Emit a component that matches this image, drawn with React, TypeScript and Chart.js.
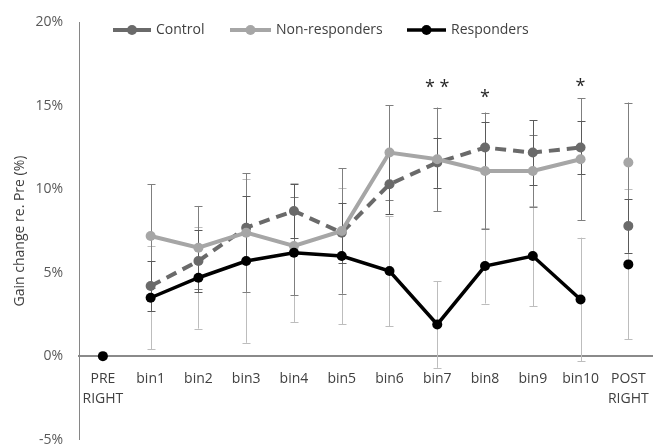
import React, { useEffect, useRef } from 'react';
import { Chart, registerables } from 'chart.js';

Chart.register(...registerables);

const categories: (string | string[])[] = [
  ['PRE', 'RIGHT'], 'bin1', 'bin2', 'bin3', 'bin4', 'bin5', 'bin6', 'bin7', 'bin8', 'bin9', 'bin10', ['POST', 'RIGHT'],
];

const controlValues = [null, 4.2, 5.7, 7.7, 8.7, 7.4, 10.3, 11.6, 12.5, 12.2, 12.5, 7.8];
const controlErrors = [null, 1.5, 1.85, 1.9, 1.6, 1.8, 1.8, 1.5, 1.55, 1.95, 1.6, 1.6];

const nonResponderValues = [null, 7.2, 6.5, 7.4, 6.6, 7.5, 12.2, 11.8, 11.1, 11.1, 11.8, 11.6];
const nonResponderErrors = [null, 3.1, 2.5, 3.55, 2.95, 3.75, 2.85, 3.1, 3.5, 2.15, 3.65, 3.6];

const responderValues = [0, 3.5, 4.7, 5.7, 6.2, 6.0, 5.1, 1.9, 5.4, 6.0, 3.4, 5.5];
const responderErrors = [null, 3.1, 3.05, 4.9, 4.15, 4.1, 3.3, 2.6, 2.25, 3.0, 3.7, 4.5];

const significanceLabels = ['', '', '', '', '', '', '', '* *', '*', '', '*', ''];
const significanceValues = [null, null, null, null, null, null, null, 16.1, 15.5, null, 16.2, null];

const yTicks = [-5, 0, 5, 10, 15, 20];

const FONT = "'Open Sans', sans-serif";

const CONTROL_COLOR = '#6a6a6a';
const NONRESP_COLOR = '#a6a6a6';
const RESP_COLOR = '#000000';

const lastIndex = categories.length - 1;
const isDetached = (ctx: any) => ctx.p0DataIndex === 0 || ctx.p1DataIndex === lastIndex;

const errorBarPlugin = {
  id: 'errorBars',
  beforeDatasetsDraw(chart: any) {
    const { ctx } = chart;
    const yScale = chart.scales.y;
    const drawOrder = [2, 1, 0];
    ctx.save();
    drawOrder.forEach((di) => {
      const ds = chart.data.datasets[di];
      const meta = chart.getDatasetMeta(di);
      const errs = ds.errors as (number | null)[];
      ctx.strokeStyle = ds.errorColor;
      ctx.lineWidth = 1;
      ds.data.forEach((v: number | null, i: number) => {
        const e = errs[i];
        if (v === null || e === null || e === undefined) return;
        const pt = meta.data[i];
        const x = Math.round(pt.x) + 0.5;
        const yTop = yScale.getPixelForValue(v + e);
        const yBot = yScale.getPixelForValue(v - e);
        ctx.beginPath();
        ctx.moveTo(x, yTop);
        ctx.lineTo(x, yBot);
        ctx.moveTo(x - 4, Math.round(yTop) + 0.5);
        ctx.lineTo(x + 4, Math.round(yTop) + 0.5);
        ctx.moveTo(x - 4, Math.round(yBot) + 0.5);
        ctx.lineTo(x + 4, Math.round(yBot) + 0.5);
        ctx.stroke();
      });
    });
    ctx.restore();
  },
};

const annotationPlugin = {
  id: 'annotations',
  afterDraw(chart: any) {
    const { ctx } = chart;
    const xScale = chart.scales.x;
    const yScale = chart.scales.y;
    ctx.save();

    // significance markers
    ctx.font = `18px ${FONT}`;
    ctx.fillStyle = '#262626';
    ctx.textAlign = 'center';
    ctx.textBaseline = 'alphabetic';
    significanceLabels.forEach((lab, i) => {
      const v = significanceValues[i];
      if (!lab || v === null) return;
      const x = xScale.getPixelForValue(i);
      const y = yScale.getPixelForValue(v);
      ctx.fillText(lab, x, y + 6);
    });

    // legend
    const items = [
      { label: 'Control', color: CONTROL_COLOR, width: 4, x0: 113, x1: 151 },
      { label: 'Non-responders', color: NONRESP_COLOR, width: 4, x0: 230, x1: 271 },
      { label: 'Responders', color: RESP_COLOR, width: 3.5, x0: 407, x1: 446 },
    ];
    const ly = 32;
    items.forEach((it) => {
      ctx.strokeStyle = it.color;
      ctx.lineWidth = it.width;
      ctx.beginPath();
      ctx.moveTo(it.x0, ly);
      ctx.lineTo(it.x1, ly);
      ctx.stroke();
      ctx.fillStyle = it.color;
      ctx.beginPath();
      ctx.arc((it.x0 + it.x1) / 2, ly, 5, 0, Math.PI * 2);
      ctx.fill();
      ctx.font = `14px ${FONT}`;
      ctx.fillStyle = '#404040';
      ctx.textAlign = 'left';
      ctx.textBaseline = 'middle';
      ctx.fillText(it.label, it.x1 + 5, ly);
    });
    ctx.restore();
  },
};

export default function App() {
  const canvasRef = useRef<HTMLCanvasElement | null>(null);

  useEffect(() => {
    if (!canvasRef.current) return;
    const chart = new Chart(canvasRef.current, {
      type: 'line',
      data: {
        labels: categories as any,
        datasets: [
          {
            label: 'Control',
            data: controlValues as any,
            errors: controlErrors,
            errorColor: '#5a5a5a',
            borderColor: CONTROL_COLOR,
            backgroundColor: CONTROL_COLOR,
            borderWidth: 4,
            borderDash: [11, 7],
            pointRadius: 5,
            pointHoverRadius: 5,
            pointBorderWidth: 0,
            pointBackgroundColor: CONTROL_COLOR,
            order: 3,
            segment: { borderColor: (c: any) => (isDetached(c) ? 'transparent' : undefined) },
          } as any,
          {
            label: 'Non-responders',
            data: nonResponderValues as any,
            errors: nonResponderErrors,
            errorColor: '#7f7f7f',
            borderColor: NONRESP_COLOR,
            backgroundColor: NONRESP_COLOR,
            borderWidth: 4,
            pointRadius: 5,
            pointHoverRadius: 5,
            pointBorderWidth: 0,
            pointBackgroundColor: NONRESP_COLOR,
            order: 2,
            segment: { borderColor: (c: any) => (isDetached(c) ? 'transparent' : undefined) },
          } as any,
          {
            label: 'Responders',
            data: responderValues as any,
            errors: responderErrors,
            errorColor: '#bdbdbd',
            borderColor: RESP_COLOR,
            backgroundColor: RESP_COLOR,
            borderWidth: 3.5,
            pointRadius: 5,
            pointHoverRadius: 5,
            pointBorderWidth: 0,
            pointBackgroundColor: RESP_COLOR,
            order: 1,
            segment: { borderColor: (c: any) => (isDetached(c) ? 'transparent' : undefined) },
          } as any,
        ],
      },
      options: {
        animation: false,
        responsive: true,
        maintainAspectRatio: false,
        spanGaps: false,
        layout: { padding: { top: 15, right: 7, bottom: 10, left: 0 } },
        plugins: {
          legend: { display: false },
          tooltip: { enabled: false },
        },
        scales: {
          x: {
            type: 'category',
            offset: true,
            position: { y: 0 } as any,
            grid: { display: false, drawTicks: false },
            border: { display: true, color: '#8a8a8a', width: 2 },
            ticks: {
              color: '#404040',
              font: { family: FONT, size: 14, lineHeight: 1.43 },
              padding: 13,
              autoSkip: false,
              maxRotation: 0,
            },
          },
          y: {
            min: -5,
            max: 20,
            afterFit: (scale: any) => {
              scale.width = 79;
            },
            afterBuildTicks: (scale: any) => {
              scale.ticks = yTicks.map((v) => ({ value: v }));
            },
            grid: { display: false, drawTicks: false },
            border: { display: true, color: '#868686', width: 1 },
            ticks: {
              color: '#595959',
              font: { family: FONT, size: 14 },
              padding: 16,
              callback: (v: any) => `${v}%`,
            },
            title: {
              display: true,
              text: 'Gain change re. Pre (%)',
              color: '#404040',
              font: { family: FONT, size: 14 },
              padding: { top: 12, bottom: 0 },
            },
          },
        },
      },
      plugins: [errorBarPlugin, annotationPlugin],
    } as any);
    return () => chart.destroy();
  }, []);

  return (
    <div style={{ position: 'fixed', left: 0, top: 0, width: 662, height: 448, overflow: 'hidden', background: '#fff' }}>
      <div style={{ position: 'relative', top: -2, width: 662, height: 466 }}>
        <canvas ref={canvasRef} />
      </div>
    </div>
  );
}
